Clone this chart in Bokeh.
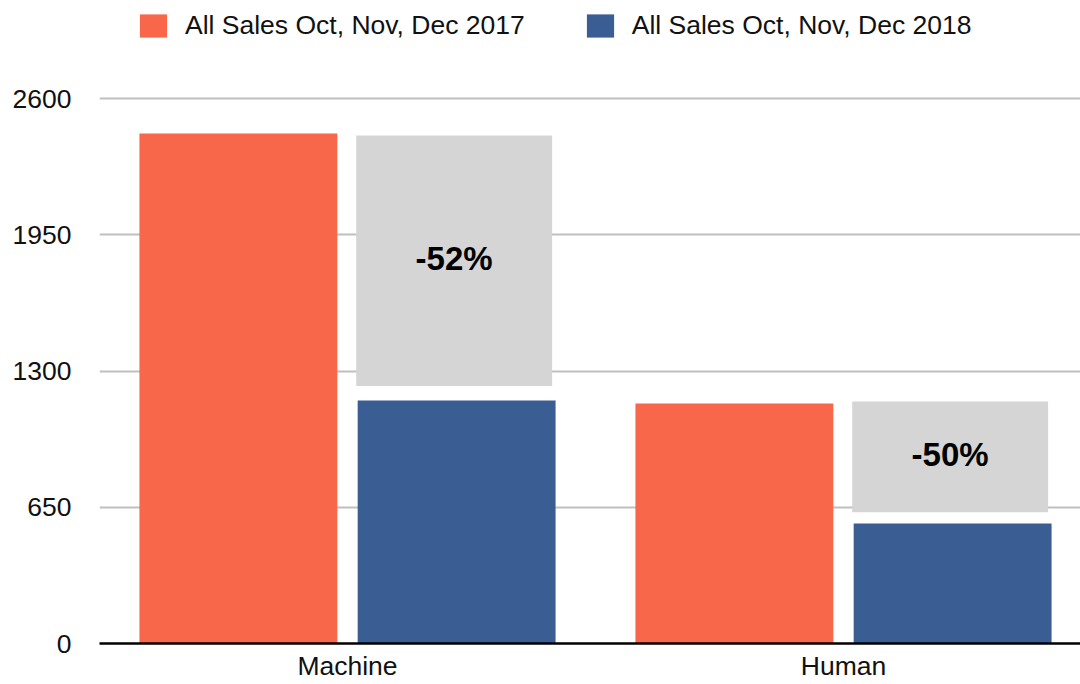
import numpy as np
from bokeh.plotting import figure
from bokeh.models import Range1d, FixedTicker, Legend, LegendItem, ColumnDataSource
from bokeh.core.properties import value
from bokeh.embed import file_html
from bokeh.resources import INLINE

# ---- data ----
categories = ["Machine", "Human"]
series_names = ["All Sales Oct, Nov, Dec 2017", "All Sales Oct, Nov, Dec 2018"]
sales_2017 = [2433, 1145]
sales_2018 = [1159, 573]
gap_top = [2424, 1155]
gap_bottom = [1228, 626]
change_labels = ["-52%", "-50%"]
y_ticks = [0, 650, 1300, 1950, 2600]

ORANGE = "#F8674A"
BLUE = "#3A5D93"
GRAY = "#D5D5D5"
FONT = "Liberation Sans"
FS = "26.5px"

idx = np.arange(len(categories)) + 0.5
bar_w = 0.399
off = 0.22

p = figure(width=1080, height=684, output_backend="svg", toolbar_location=None,
           x_range=Range1d(0, 981 / 496), y_range=Range1d(0, 2600 * 643 / 545),
           min_border_left=99, min_border_top=0, min_border_bottom=41, min_border_right=0)

src = ColumnDataSource(dict(
    xa=idx - off, xb=idx + off, xg=idx + 0.215,
    a=sales_2017, b=sales_2018, gt=gap_top, gb=gap_bottom,
    ym=[(t + b) / 2 for t, b in zip(gap_top, gap_bottom)], lab=change_labels))

r1 = p.vbar(x="xa", top="a", width=bar_w, source=src, fill_color=ORANGE, line_color=None)
r2 = p.vbar(x="xb", top="b", width=bar_w, source=src, fill_color=BLUE, line_color=None)
p.vbar(x="xg", top="gt", bottom="gb", width=0.395, source=src, fill_color=GRAY, line_color=None)
p.text(x="xg", y="ym", text="lab", source=src, text_align="center", text_baseline="middle",
       y_offset=-2,
       text_font=value(FONT), text_font_size="33px", text_font_style="bold", text_color="#000000")

# axes
for ax in (p.xaxis, p.yaxis):
    ax.major_tick_line_color = None
    ax.minor_tick_line_color = None
    ax.major_tick_out = 0
    ax.major_tick_in = 0
    ax.minor_tick_out = 0
    ax.axis_label_standoff = 0
    ax.major_label_text_font = FONT
    ax.major_label_text_font_size = FS
    ax.major_label_text_color = "#111111"

p.xaxis.ticker = FixedTicker(ticks=list(idx))
p.xaxis.major_label_overrides = {float(x): c for x, c in zip(idx, categories)}
p.xaxis.axis_line_color = "#000000"
p.xaxis.axis_line_width = 2.5
p.xaxis.major_label_standoff = 7

p.yaxis.ticker = FixedTicker(ticks=y_ticks)
p.yaxis.axis_line_color = None
p.yaxis.major_label_standoff = 28

p.xgrid.grid_line_color = None
p.ygrid.ticker = FixedTicker(ticks=y_ticks)
p.ygrid.grid_line_color = "#BFBFBF"
p.ygrid.grid_line_width = 2
p.outline_line_color = None
p.background_fill_color = "white"
p.border_fill_color = "white"

legend = Legend(items=[LegendItem(label=series_names[0], renderers=[r1]),
                       LegendItem(label=series_names[1], renderers=[r2])],
                orientation="horizontal", location=(37, 602),
                glyph_width=34, glyph_height=29, label_standoff=15, spacing=58,
                padding=0, margin=0, border_line_alpha=0, background_fill_alpha=0,
                label_text_font=FONT, label_text_font_size=FS, label_text_color="#111111")
p.add_layout(legend, "center")

open("out.html", "w").write(file_html(p, INLINE))
